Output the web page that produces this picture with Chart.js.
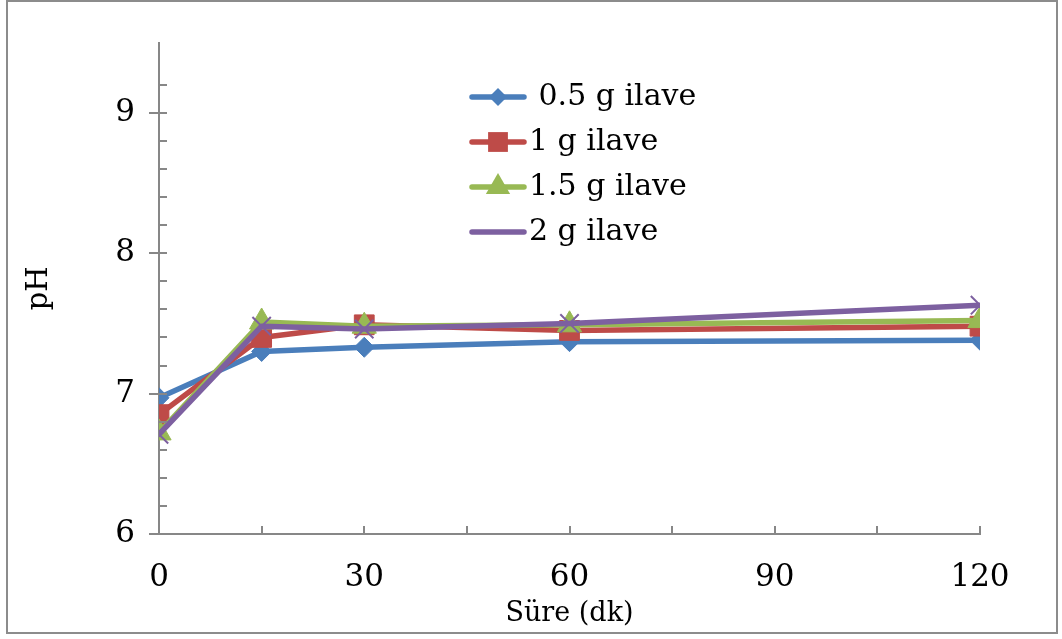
<!DOCTYPE html>
<html>
<head>
<meta charset="utf-8">
<script src="https://cdn.jsdelivr.net/npm/chart.js@4.4.0/dist/chart.umd.min.js"></script>
<style>
  html, body { margin: 0; padding: 0; background: #fff; }
  #wrap { width: 1062px; height: 639px; position: relative; }
</style>
</head>
<body>
<div id="wrap"><canvas id="chart"></canvas></div>
<script>
// ── Data ──────────────────────────────────────────────────────
const times       = [0, 15, 30, 60, 120];               // Süre (dk)
const seriesNames = [' 0.5 g ilave', '1 g ilave', '1.5 g ilave', '2 g ilave'];
const ph05 = [6.97, 7.30, 7.33, 7.37, 7.38];
const ph10 = [6.85, 7.40, 7.49, 7.45, 7.48];
const ph15 = [6.72, 7.51, 7.48, 7.49, 7.52];
const ph20 = [6.71, 7.48, 7.46, 7.50, 7.63];
const xMajorLabels = [0, 30, 60, 90, 120];
const yMajorLabels = [6, 7, 8, 9];

const FONT   = "'DejaVu Serif', serif";
const AXIS   = '#878787';

// ── Styles per series ─────────────────────────────────────────
const styles = [
  { color: '#4a7ebb', pointStyle: 'rectRot',  radius: 10, bw: 1 },
  { color: '#be4b48', pointStyle: 'rect',     radius: 14, bw: 1 },
  { color: '#98b954', pointStyle: 'triangle', radius: 14, bw: 1 },
  { color: '#7d60a0', pointStyle: 'crossRot', radius: 13, bw: 2 }
];
const allSeries = [ph05, ph10, ph15, ph20];

const datasets = allSeries.map((vals, i) => ({
  label:                seriesNames[i],
  data:                 times.map((t, j) => ({ x: t, y: vals[j] })),
  borderColor:          styles[i].color,
  backgroundColor:      styles[i].color,
  borderWidth:          5.5,
  borderJoinStyle:      'round',
  borderCapStyle:       'round',
  tension:              0,
  pointStyle:           styles[i].pointStyle,
  pointRadius:          styles[i].radius,
  pointHoverRadius:     styles[i].radius,
  pointBorderWidth:     styles[i].bw,
  pointBorderColor:     styles[i].color,
  pointBackgroundColor: styles[i].color,
  order:                4 - i          // later series drawn on top, like Excel
}));

const isMajor = (v, list) => list.some(m => Math.abs(m - v) < 1e-6);

// ── Frame around the whole chart ──────────────────────────────
const framePlugin = {
  id: 'frame',
  beforeDraw(chart) {
    const ctx = chart.ctx;
    ctx.save();
    ctx.strokeStyle = '#8c8c8c';
    ctx.lineWidth = 2;
    ctx.strokeRect(7, 1, 1050, 632);
    ctx.restore();
  }
};

// ── Tick marks (inside minors, crossing majors on y) ──────────
const tickMarks = {
  id: 'tickMarks',
  afterDraw(chart) {
    const ctx = chart.ctx;
    const xs = chart.scales.x, ys = chart.scales.y;
    const area = chart.chartArea;
    ctx.save();
    ctx.strokeStyle = AXIS;
    ctx.lineWidth = 2;
    ctx.beginPath();
    ys.ticks.forEach(t => {
      if (t.value > 9.45) return;
      const y = Math.round(ys.getPixelForValue(t.value));
      const major = isMajor(t.value, yMajorLabels);
      ctx.moveTo(area.left - (major ? 10 : 0), y);
      ctx.lineTo(area.left + 8, y);
    });
    xs.ticks.forEach(t => {
      if (t.value === 0) return;
      const x = Math.round(xs.getPixelForValue(t.value));
      ctx.moveTo(x, area.bottom);
      ctx.lineTo(x, area.bottom - 8);
    });
    ctx.stroke();
    ctx.restore();
  }
};

// ── Legend drawn inside the plot, Excel style ─────────────────
const legendBox = {
  id: 'legendBox',
  afterDraw(chart) {
    const ctx = chart.ctx;
    const x0 = 472, x1 = 524, yTop = 97, dy = 45;
    chart.data.datasets.forEach((ds, i) => {
      const y = yTop + i * dy;
      ctx.save();
      ctx.strokeStyle = ds.borderColor;
      ctx.lineWidth = 5.5;
      ctx.lineCap = 'round';
      ctx.beginPath();
      ctx.moveTo(x0, y);
      ctx.lineTo(x1, y);
      ctx.stroke();
      ctx.fillStyle = ds.pointBackgroundColor;
      ctx.strokeStyle = ds.pointBorderColor;
      ctx.lineWidth = ds.pointBorderWidth;
      Chart.helpers.drawPoint(ctx, {
        pointStyle: ds.pointStyle,
        radius: ds.pointStyle === 'rectRot' ? 9 : ds.pointRadius,
        rotation: 0
      }, (x0 + x1) / 2, y);
      ctx.fillStyle = '#000';
      ctx.font = '30px ' + FONT;
      ctx.textBaseline = 'middle';
      ctx.textAlign = 'left';
      ctx.fillText(ds.label, 529, y);
      ctx.restore();
    });
  }
};

new Chart(document.getElementById('chart').getContext('2d'), {
  type: 'line',
  data: { datasets },
  plugins: [framePlugin, tickMarks, legendBox],
  options: {
    responsive:          true,
    maintainAspectRatio: false,
    animation:           false,
    layout: { padding: { left: 0, top: 42, right: 82, bottom: 0 } },
    plugins: {
      legend:  { display: false },
      tooltip: { enabled: false }
    },
    scales: {
      x: {
        type: 'linear',
        min: 0,
        max: 120,
        grid:   { display: false, drawTicks: false },
        border: { display: true, color: AXIS, width: 2 },
        ticks: {
          stepSize: 15,
          autoSkip: false,
          maxRotation: 0,
          padding: 25,
          color: '#000',
          font: { family: FONT, size: 31 },
          callback: v => isMajor(v, xMajorLabels) ? String(v) : ''
        },
        title: {
          display: true,
          text: 'Süre (dk)',
          color: '#000',
          font: { family: FONT, size: 27 },
          padding: { top: 0, bottom: 9 }
        },
        afterFit: s => { s.height = 105; }
      },
      y: {
        min: 6,
        max: 9.5,
        grid:   { display: false, drawTicks: false },
        border: { display: true, color: AXIS, width: 2 },
        ticks: {
          stepSize: 0.2,
          autoSkip: false,
          padding: 24,
          color: '#000',
          font: { family: FONT, size: 31 },
          callback: v => isMajor(v, yMajorLabels) ? String(Math.round(v)) : ''
        },
        title: {
          display: true,
          text: 'pH',
          color: '#000',
          font: { family: FONT, size: 29 },
          padding: { top: 22, bottom: 0 }
        },
        afterFit: s => { s.width = 159; }
      }
    }
  }
});
</script>
</body>
</html>
